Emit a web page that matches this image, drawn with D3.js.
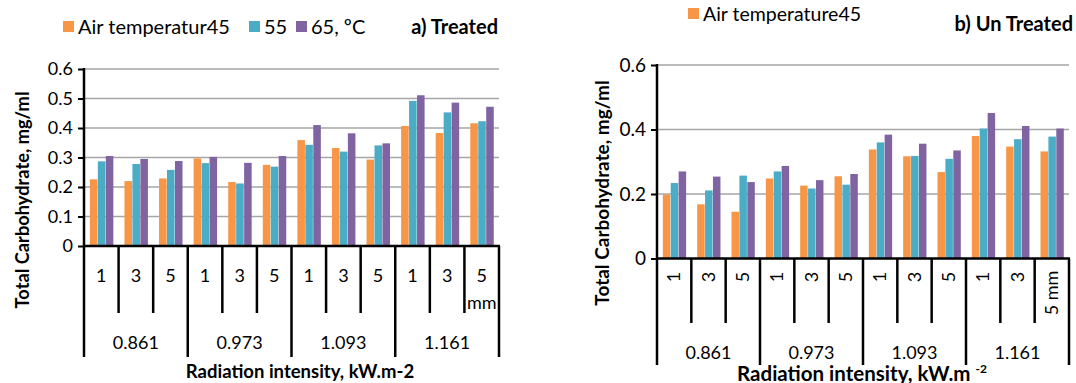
<!DOCTYPE html>
<html>
<head>
<meta charset="utf-8">
<script src="https://cdn.jsdelivr.net/npm/d3@7"></script>
<style>
  body { margin: 0; background: #fff; }
  svg { font-family: Lato, "Open Sans", sans-serif; }
</style>
</head>
<body>
<svg width="1076" height="383"></svg>
<script>
var svg = d3.select("svg");

// categories
var intensities = ["0.861", "0.973", "1.093", "1.161"];
var thickness = ["1", "3", "5"];
var seriesNames = ["Air temperatur45", "55", "65, ºC"];
var colors = ["#f79646", "#4bacc6", "#8064a2"];

// a) treated, one value per intensity x thickness
var treated45 = [0.226, 0.220, 0.229, 0.297, 0.217, 0.275, 0.359, 0.332, 0.293, 0.407, 0.383, 0.416];
var treated55 = [0.287, 0.278, 0.258, 0.281, 0.212, 0.269, 0.343, 0.320, 0.341, 0.492, 0.453, 0.423];
var treated65 = [0.305, 0.295, 0.288, 0.302, 0.282, 0.305, 0.410, 0.382, 0.348, 0.511, 0.486, 0.472];

// b) un treated
var untreated45 = [0.198, 0.168, 0.145, 0.248, 0.226, 0.255, 0.338, 0.317, 0.268, 0.380, 0.347, 0.332];
var untreated55 = [0.234, 0.211, 0.257, 0.270, 0.217, 0.229, 0.360, 0.318, 0.309, 0.403, 0.370, 0.378];
var untreated65 = [0.270, 0.254, 0.237, 0.287, 0.243, 0.262, 0.384, 0.356, 0.335, 0.451, 0.411, 0.403];

var leftTicks = [0, 0.1, 0.2, 0.3, 0.4, 0.5, 0.6];
var rightTicks = [0, 0.2, 0.4, 0.6];

function buildRows(s1, s2, s3) {
  var rows = [];
  intensities.forEach(function(g, gi) {
    thickness.forEach(function(t, ti) {
      var i = gi * 3 + ti;
      rows.push({ id: i, group: g, label: t, values: [s1[i], s2[i], s3[i]] });
    });
  });
  return rows;
}

function drawPanel(cfg) {
  var rows = buildRows(cfg.s1, cfg.s2, cfg.s3);
  var x = d3.scaleBand().domain(rows.map(function(d) { return d.id; }))
      .range([cfg.x0, cfg.x1]).padding(0);
  var y = d3.scaleLinear().domain([0, 0.6]).range([cfg.y0, cfg.y1]);
  var bw = x.bandwidth();
  var inner = d3.scaleBand().domain([0, 1, 2])
      .range([bw * 0.17, bw * 0.86]).padding(0);

  var g = svg.append("g");

  // gridlines
  g.selectAll("line.grid").data(cfg.ticks.filter(function(t) { return t > 0; }))
    .enter().append("line")
      .attr("x1", cfg.x0).attr("x2", cfg.x1)
      .attr("y1", function(d) { return y(d); }).attr("y2", function(d) { return y(d); })
      .attr("stroke", "#a6a6a6").attr("stroke-width", 1.5);

  // bars
  var cat = g.selectAll("g.cat").data(rows).enter().append("g")
      .attr("transform", function(d) { return "translate(" + x(d.id) + ",0)"; });
  cat.selectAll("rect").data(function(d) { return d.values; })
    .enter().append("rect")
      .attr("x", function(d, i) { return inner(i); })
      .attr("width", inner.bandwidth() - 0.4)
      .attr("y", function(d) { return y(d); })
      .attr("height", function(d) { return cfg.y0 - y(d); })
      .attr("fill", function(d, i) { return colors[i]; });

  // y axis
  var yAxis = d3.axisLeft(y).tickValues(cfg.ticks).tickSize(6)
      .tickFormat(function(d) { return d === 0 ? "0" : d3.format(".1f")(d); });
  var ya = g.append("g").attr("transform", "translate(" + cfg.x0 + ",0)").call(yAxis);
  ya.select(".domain").remove();
  ya.selectAll(".tick line").attr("stroke", "#000").attr("stroke-width", 2);
  ya.selectAll(".tick text").attr("font-size", cfg.tickSize).attr("fill", "#000")
    .attr("font-family", "Lato").attr("x", -11);
  g.append("line").attr("x1", cfg.x0).attr("x2", cfg.x0)
    .attr("y1", cfg.y1 - 1).attr("y2", cfg.y0 + 1)
    .attr("stroke", "#000").attr("stroke-width", 2.5);

  // x axis baseline
  g.append("line").attr("x1", cfg.x0 - 1).attr("x2", cfg.x1 + 1)
    .attr("y1", cfg.y0).attr("y2", cfg.y0)
    .attr("stroke", "#000").attr("stroke-width", 2.5);

  // separators
  var seps = d3.range(13);
  g.selectAll("line.sep").data(seps).enter().append("line")
    .attr("x1", function(d) { return cfg.x0 + d * bw; })
    .attr("x2", function(d) { return cfg.x0 + d * bw; })
    .attr("y1", cfg.y0)
    .attr("y2", function(d) { return d % 3 === 0 ? cfg.groupSepY : cfg.minorSepY; })
    .attr("stroke", "#000").attr("stroke-width", 2.5);

  // thickness labels
  var lab = g.selectAll("text.thk").data(rows).enter().append("text")
    .attr("font-size", 18).attr("fill", "#000");
  if (cfg.rotate) {
    lab.attr("transform", function(d) {
        return "translate(" + (x(d.id) + bw / 2 + 6) + "," + cfg.labelY + ") rotate(-90)";
      })
      .attr("text-anchor", "middle")
      .attr("dx", function(d) { return d.id === 11 ? -16 : 0; })
      .text(function(d) { return d.id === 11 ? d.label + " mm" : d.label; });
  } else {
    lab.attr("x", function(d) { return x(d.id) + bw / 2; })
      .attr("y", cfg.labelY).attr("text-anchor", "middle")
      .text(function(d) { return d.label; });
    g.append("text").attr("x", x(11) + bw / 2).attr("y", cfg.labelY + 27)
      .attr("text-anchor", "middle").attr("font-size", 18).text("mm");
  }

  // group labels
  g.selectAll("text.grp").data(intensities).enter().append("text")
    .attr("x", function(d, i) { return cfg.x0 + (i * 3 + 1.5) * bw; })
    .attr("y", cfg.groupLabelY).attr("text-anchor", "middle")
    .attr("font-size", 18).text(function(d) { return d; });

  // axis titles
  var xt = g.append("text").attr("x", cfg.xTitleX).attr("y", cfg.xTitleY)
    .attr("text-anchor", "middle").attr("font-weight", "bold").attr("font-size", cfg.xTitleSize);
  xt.append("tspan").text("Radiation intensity, kW.m" + (cfg.supTitle ? " " : "-2"));
  if (cfg.supTitle) {
    xt.append("tspan").attr("dy", -8).attr("font-size", 12).text("-2");
  }
  g.append("text")
    .attr("transform", "translate(" + cfg.yTitleX + "," + cfg.yTitleY + ") rotate(-90)")
    .attr("text-anchor", "middle").attr("font-weight", "bold").attr("font-size", cfg.yTitleSize)
    .text("Total Carbohydrate, mg/ml");

  // legend
  var leg = g.selectAll("g.leg").data(cfg.legend).enter().append("g")
    .attr("transform", function(d) { return "translate(" + d.x + "," + cfg.legendY + ")"; });
  leg.append("rect").attr("x", 0).attr("y", -6).attr("width", 11).attr("height", 11)
    .attr("fill", function(d) { return colors[d.i]; });
  leg.append("text").attr("x", 15).attr("y", 7).attr("font-size", cfg.legendSize)
    .text(function(d) { return d.i === 0 && cfg.legendName ? cfg.legendName : seriesNames[d.i]; });

  g.append("text").attr("x", cfg.titleX).attr("y", cfg.titleY)
    .attr("text-anchor", "end").attr("font-weight", "bold").attr("font-size", 20)
    .text(cfg.title);
}

drawPanel({
  s1: treated45, s2: treated55, s3: treated65,
  x0: 84, x1: 499, y0: 246, y1: 69, ticks: leftTicks, tickSize: 18,
  minorSepY: 313, groupSepY: 357, labelY: 282, groupLabelY: 349,
  xTitleX: 300, xTitleY: 378, xTitleSize: 18.5,
  yTitleX: 29, yTitleY: 200, yTitleSize: 18.3, rotate: false, supTitle: false,
  legendY: 27, legendSize: 20, legend: [{ i: 0, x: 63 }, { i: 1, x: 249 }, { i: 2, x: 296 }],
  title: "a) Treated", titleX: 498, titleY: 34
});

drawPanel({
  s1: untreated45, s2: untreated55, s3: untreated65,
  x0: 657, x1: 1069, y0: 258.5, y1: 65, ticks: rightTicks, tickSize: 19,
  minorSepY: 323, groupSepY: 365, labelY: 277, groupLabelY: 359,
  xTitleX: 862, xTitleY: 381, xTitleSize: 20.5,
  yTitleX: 609, yTitleY: 193, yTitleSize: 19, rotate: true, supTitle: true,
  legendY: 14, legendSize: 19.5, legend: [{ i: 0, x: 688 }], legendName: "Air temperature45",
  title: "b) Un Treated", titleX: 1073, titleY: 31
});
</script>
</body>
</html>
